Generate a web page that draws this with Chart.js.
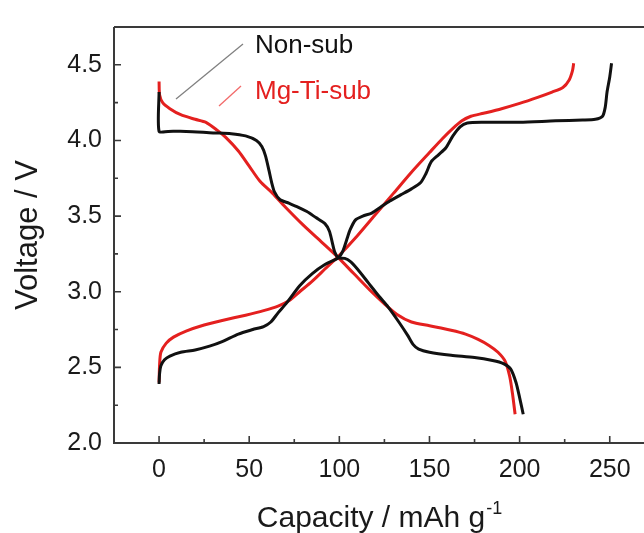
<!DOCTYPE html>
<html>
<head>
<meta charset="utf-8">
<script src="https://cdn.jsdelivr.net/npm/chart.js@4.4.0/dist/chart.umd.min.js"></script>
<style>
  html, body { margin: 0; padding: 0; background: #fff; }
  canvas { display: block; }
</style>
</head>
<body>
<canvas id="cv" width="644" height="533"></canvas>
<script>
// capacity (mAh/g), voltage (V)
const nonSubDischarge = [
  [0, 4.32], [0, 4.06], [5, 4.06], [15, 4.06], [30, 4.05], [40, 4.045], [48, 4.03],
  [54, 4.0], [57, 3.96], [59, 3.9], [61, 3.8], [62.5, 3.72], [64, 3.66], [67, 3.61],
  [72, 3.585], [77, 3.56], [82, 3.53], [87, 3.49], [92, 3.45], [94.5, 3.4], [96, 3.33],
  [97.5, 3.26], [99.5, 3.225], [103, 3.22], [106, 3.2], [110, 3.15], [116, 3.06],
  [122, 2.97], [127, 2.9], [133, 2.8], [138, 2.71], [141, 2.65], [144, 2.62], [150, 2.6],
  [162, 2.58], [175, 2.565], [185, 2.545], [191, 2.525], [195, 2.49], [198, 2.4],
  [200, 2.3], [202, 2.19]
];
const nonSubCharge = [
  [0, 2.39], [0.3, 2.46], [1, 2.51], [3, 2.55], [6, 2.575], [12, 2.6], [20, 2.615],
  [28, 2.64], [35, 2.67], [44, 2.72], [52, 2.75], [58, 2.77], [62, 2.8], [66, 2.86],
  [71, 2.93], [78, 3.04], [85, 3.12], [92, 3.18], [99.5, 3.225], [102, 3.27], [104, 3.34],
  [106, 3.41], [109, 3.475], [113, 3.5], [118, 3.52], [123, 3.56], [128, 3.6], [134, 3.64],
  [140, 3.68], [145, 3.72], [148, 3.78], [151, 3.86], [155, 3.905], [159, 3.95], [163, 4.03],
  [167, 4.09], [171, 4.115], [180, 4.12], [200, 4.12], [220, 4.13], [235, 4.135],
  [242, 4.14], [246, 4.16], [247.5, 4.22], [248.5, 4.32], [250, 4.42], [251, 4.51]
];
const mgTiDischarge = [
  [0, 4.39], [0.3, 4.3], [2, 4.25], [6, 4.21], [12, 4.17], [20, 4.14], [26, 4.12],
  [32, 4.07], [37, 4.02], [44, 3.93], [50, 3.83], [56, 3.73], [63, 3.65], [70, 3.56],
  [80, 3.44], [90, 3.33], [99, 3.23], [108, 3.12], [117, 3.01], [125, 2.92], [132, 2.85],
  [140, 2.8], [150, 2.775], [162, 2.745], [170, 2.72], [177, 2.685], [183, 2.645],
  [188, 2.6], [192, 2.54], [194.5, 2.44], [196, 2.33], [197.5, 2.19]
];
const mgTiCharge = [
  [0, 2.4], [0.3, 2.52], [1, 2.6], [4, 2.66], [8, 2.7], [15, 2.74], [25, 2.78],
  [35, 2.81], [48, 2.845], [58, 2.875], [66, 2.905], [72, 2.94], [78, 3.0], [85, 3.07],
  [92, 3.15], [99.5, 3.235], [110, 3.37], [120, 3.51], [130, 3.65], [140, 3.79],
  [150, 3.92], [157, 4.01], [163, 4.08], [168, 4.13], [173, 4.16], [180, 4.18],
  [190, 4.21], [200, 4.245], [210, 4.285], [218, 4.32], [224, 4.35], [227.5, 4.4],
  [229.3, 4.46], [230, 4.51]
];

const xTickVals = [0, 50, 100, 150, 200, 250];
const xMinorVals = [25, 75, 125, 175, 225];
const yTickVals = [2.0, 2.5, 3.0, 3.5, 4.0, 4.5];
const yMinorVals = [2.25, 2.75, 3.25, 3.75, 4.25];

const seriesNames = ['Non-sub', 'Mg-Ti-sub'];
const xTitle = 'Capacity / mAh g';
const xTitleSup = '-1';
const yTitle = 'Voltage / V';

const FONT = '"Liberation Sans", Arial, sans-serif';
const BLACK = '#111111';
const RED = '#e4201f';
const AXIS = '#3a3a3a';

const toXY = arr => arr.map(([x, y]) => ({x, y}));

const line = (data, color) => ({
  data: toXY(data),
  borderColor: color,
  borderWidth: 3,
  pointRadius: 0,
  showLine: true,
  fill: false,
  tension: 0.25
});

// axis frame with inward ticks
const framePlugin = {
  id: 'frame',
  afterDatasetsDraw(chart) {
    const {ctx, chartArea: a, scales: {x, y}} = chart;
    ctx.save();
    ctx.strokeStyle = AXIS;
    ctx.lineWidth = 2;
    ctx.beginPath();
    ctx.moveTo(a.left, a.top);
    ctx.lineTo(a.right, a.top);
    ctx.moveTo(a.left, a.top);
    ctx.lineTo(a.left, a.bottom);
    ctx.lineTo(a.right, a.bottom);
    ctx.stroke();

    ctx.lineWidth = 1.6;
    ctx.beginPath();
    xTickVals.forEach(v => {
      const px = x.getPixelForValue(v);
      ctx.moveTo(px, a.bottom); ctx.lineTo(px, a.bottom - 7);
    });
    xMinorVals.forEach(v => {
      const px = x.getPixelForValue(v);
      ctx.moveTo(px, a.bottom); ctx.lineTo(px, a.bottom - 4);
    });
    yTickVals.forEach(v => {
      const py = y.getPixelForValue(v);
      ctx.moveTo(a.left, py); ctx.lineTo(a.left + 7, py);
    });
    yMinorVals.forEach(v => {
      const py = y.getPixelForValue(v);
      ctx.moveTo(a.left, py); ctx.lineTo(a.left + 4, py);
    });
    ctx.stroke();
    ctx.restore();
  },
  afterDraw(chart) {
    const {ctx, chartArea: a} = chart;
    ctx.save();
    // x title with superscript
    ctx.fillStyle = '#1a1a1a';
    ctx.textBaseline = 'alphabetic';
    ctx.font = '30px ' + FONT;
    const w1 = ctx.measureText(xTitle).width;
    ctx.font = '18px ' + FONT;
    const w2 = ctx.measureText(xTitleSup).width;
    const x0 = (a.left + a.right) / 2 - (w1 + w2) / 2;
    const base = 527;
    ctx.font = '30px ' + FONT;
    ctx.fillText(xTitle, x0, base);
    ctx.font = '18px ' + FONT;
    ctx.fillText(xTitleSup, x0 + w1 + 1, base - 13);

    // legend labels with leader lines
    ctx.lineWidth = 1.3;
    ctx.strokeStyle = '#808080';
    ctx.beginPath();
    ctx.moveTo(176, 99); ctx.lineTo(243, 44);
    ctx.stroke();
    ctx.strokeStyle = '#f26a6a';
    ctx.beginPath();
    ctx.moveTo(219, 106); ctx.lineTo(241, 86);
    ctx.stroke();

    ctx.font = '26px ' + FONT;
    ctx.fillStyle = BLACK;
    ctx.fillText(seriesNames[0], 255, 53);
    ctx.fillStyle = RED;
    ctx.fillText(seriesNames[1], 255, 99);
    ctx.restore();
  }
};

new Chart(document.getElementById('cv').getContext('2d'), {
  type: 'scatter',
  data: {
    datasets: [
      line(nonSubDischarge, BLACK),
      line(nonSubCharge, BLACK),
      line(mgTiDischarge, RED),
      line(mgTiCharge, RED)
    ]
  },
  options: {
    responsive: false,
    animation: false,
    devicePixelRatio: 1,
    layout: {padding: {top: 8, right: 0, left: 0, bottom: 0}},
    plugins: {
      legend: {display: false},
      tooltip: {enabled: false}
    },
    scales: {
      x: {
        type: 'linear',
        min: -25,
        max: 269,
        afterBuildTicks: s => { s.ticks = xTickVals.map(v => ({value: v})); },
        afterFit: s => { s.height = 90; },
        grid: {display: false, drawTicks: false},
        border: {display: false},
        ticks: {
          font: {family: FONT, size: 25},
          color: '#1a1a1a',
          padding: 12,
          maxRotation: 0,
          callback: v => String(v)
        }
      },
      y: {
        type: 'linear',
        min: 2.0,
        max: 4.75,
        afterBuildTicks: s => { s.ticks = yTickVals.map(v => ({value: v})); },
        afterFit: s => { s.width = 114; },
        grid: {display: false, drawTicks: false},
        border: {display: false},
        ticks: {
          font: {family: FONT, size: 25},
          color: '#1a1a1a',
          padding: 12,
          callback: v => Number(v).toFixed(1)
        },
        title: {
          display: true,
          text: yTitle,
          font: {family: FONT, size: 31},
          color: '#1a1a1a',
          padding: {top: 10, bottom: 0}
        }
      }
    }
  },
  plugins: [framePlugin]
});
</script>
</body>
</html>
